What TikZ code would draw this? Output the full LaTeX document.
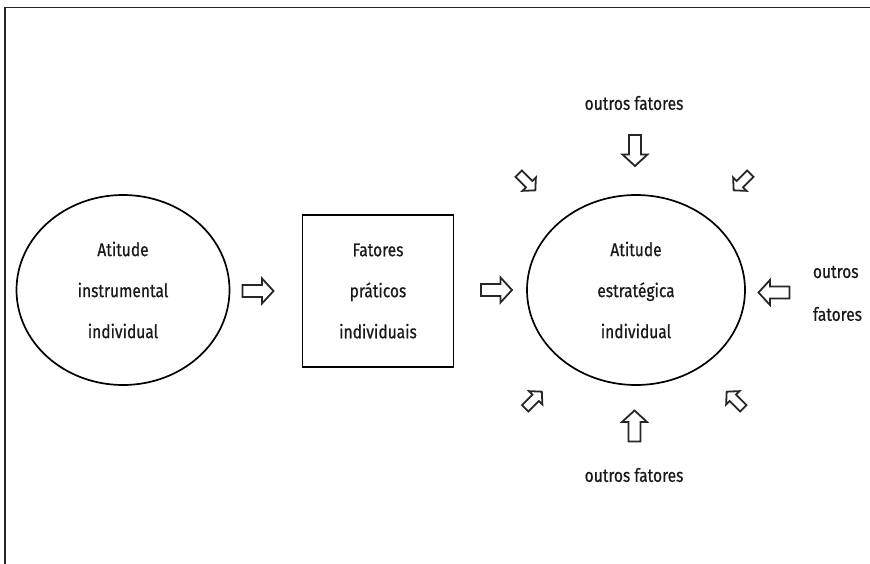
\documentclass[tikz,border=0pt]{standalone}
\usepackage{fontspec}
\setmainfont{Fira Sans}[FakeStretch=0.84, FakeBold=0.6]
\usetikzlibrary{shapes.geometric}

\tikzset{
  texto/.style={inner sep=0.75pt, font=\fontsize{18.5}{41}\selectfont, align=center, text=black!90},
  bloco/.style={draw, line width=1.7pt, texto},
  seta vazada/.pic={
    \draw [line width=1.8pt, line join=miter, black!85] (-15.5,-6) -- (4,-6) -- (4,-12.5) -- (15.5,0) -- (4,12.5) -- (4,6) -- (-15.5,6) -- cycle ;
  }
}

\begin{document}
\begin{tikzpicture}[x=1pt,y=1pt,yscale=-1,xscale=1]
\useasboundingbox (0,0) rectangle (870,564);

%Frame: top and left lines
\draw [line width=1.5pt, black!85]  (5,564) -- (5,7.5) -- (870,7.5) ;

%Shape: Ellipse [id:atitudeInstr]
\node [bloco, ellipse, minimum width=213, minimum height=190] (atitudeInstr) at (123,290) {Atitude\\instrumental\\individual};
%Shape: Square [id:fatoresPraticos]
\node [bloco, rectangle, minimum width=151, minimum height=152] (fatoresPraticos) at (378,291) {Fatores\\práticos\\individuais};
%Shape: Ellipse [id:atitudeEstrat]
\node [bloco, ellipse, minimum width=218, minimum height=190] (atitudeEstrat) at (636,290) {Atitude\\estratégica\\individual};

%Block arrows between shapes
\pic at (258,291) {seta vazada};
\pic at (496.5,290) {seta vazada};

%Block arrows round the right ellipse
\pic [rotate=-90] at (635,150.5) {seta vazada};
\pic [rotate=90] at (634.5,426) {seta vazada};
\pic [rotate=180] at (774,292.5) {seta vazada};
\pic [rotate=-45, scale=0.76] at (527,182) {seta vazada};
\pic [rotate=-135, scale=0.76] at (742,182) {seta vazada};
\pic [rotate=45, scale=0.76] at (533.5,400) {seta vazada};
\pic [rotate=135, scale=0.76] at (735,400) {seta vazada};

% Text Node
\node [texto] (outrosTopo) at (634,103) {outros fatores};
% Text Node
\node [texto] (outrosBaixo) at (634,475) {outros fatores};
% Text Node
\node [texto, anchor=west] (outrosDir) at (812,272) {outros};
% Text Node
\node [texto, anchor=west] (fatoresDir) at (812,314) {fatores};

\end{tikzpicture}
\end{document}
